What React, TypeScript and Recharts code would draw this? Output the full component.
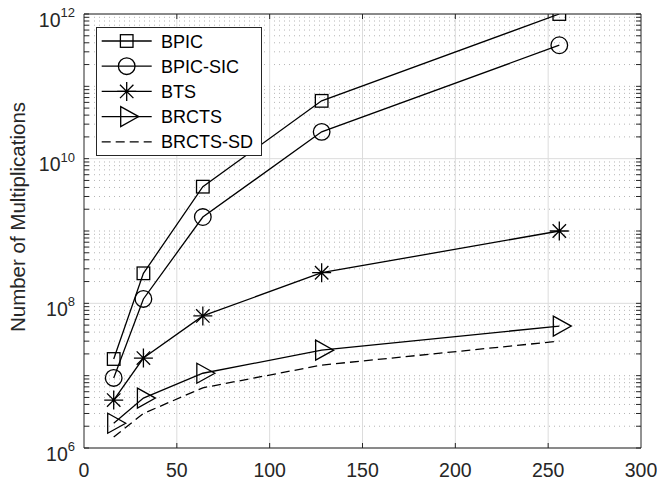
import React from "react";
import {
  LineChart,
  Line,
  XAxis,
  YAxis,
  CartesianGrid,
  Legend,
} from "recharts";

const sizes = [16, 32, 64, 128, 256];
const bpic = [1.7e7, 2.6e8, 4.1e9, 6.3e10, 1.0e12];
const bpicSic = [9.3e6, 1.15e8, 1.56e9, 2.35e10, 3.7e11];
const bts = [4.6e6, 1.75e7, 6.7e7, 2.65e8, 1.0e9];
const brcts = [2.2e6, 4.9e6, 1.08e7, 2.25e7, 4.85e7];
const brctsSd = [1.42e6, 3.0e6, 6.8e6, 1.4e7, 3.0e7];

const xTicks = [0, 50, 100, 150, 200, 250, 300];
const xGrid = [50, 100, 150, 200, 250];
const yMajor = [1e6, 1e8, 1e10, 1e12];
const decades = [6, 7, 8, 9, 10, 11];
const mantissas = [2, 3, 4, 5, 6, 7, 8, 9];

// minor log grid: 2..9 x 10^d, plus the odd decades
const yMinor: number[] = [1e7, 1e9, 1e11];
decades.forEach((d) => mantissas.forEach((k) => yMinor.push(k * Math.pow(10, d))));
const yAllTicks = [...yMajor, ...yMinor].sort((a, b) => a - b);

const data = sizes.map((n, i) => ({
  n,
  bpic: bpic[i],
  bpicSic: bpicSic[i],
  bts: bts[i],
  brcts: brcts[i],
  brctsSd: brctsSd[i],
}));

const FONT = '"Liberation Sans", Arial, Helvetica, sans-serif';
const AXIS = "#262626";
const INK = "#000";
const TICK_LEN = 5;

type Shape = "square" | "circle" | "star" | "triangle" | "none";

const series: { key: string; name: string; shape: Shape; dash?: string }[] = [
  { key: "bpic", name: "BPIC", shape: "square" },
  { key: "bpicSic", name: "BPIC-SIC", shape: "circle" },
  { key: "bts", name: "BTS", shape: "star" },
  { key: "brcts", name: "BRCTS", shape: "triangle" },
  { key: "brctsSd", name: "BRCTS-SD", shape: "none", dash: "9 5" },
];

function Marker({ cx, cy, shape }: { cx: number; cy: number; shape: Shape }) {
  const sp = { fill: "none", stroke: INK, strokeWidth: 1.3 };
  if (cx == null || cy == null) return null;
  if (shape === "square") {
    return <rect x={cx - 6.3} y={cy - 6.3} width={12.6} height={12.6} {...sp} />;
  }
  if (shape === "circle") {
    return <circle cx={cx} cy={cy} r={8.3} {...sp} />;
  }
  if (shape === "star") {
    const r = 9.5;
    const d = r * 0.707;
    return (
      <path
        d={`M${cx - r},${cy}L${cx + r},${cy}M${cx},${cy - r}L${cx},${cy + r}M${cx - d},${cy - d}L${cx + d},${cy + d}M${cx - d},${cy + d}L${cx + d},${cy - d}`}
        {...sp}
      />
    );
  }
  if (shape === "triangle") {
    return (
      <path
        d={`M${cx - 6},${cy - 10}L${cx + 12},${cy}L${cx - 6},${cy + 10}Z`}
        {...sp}
      />
    );
  }
  return null;
}

function XTickBottom(props: any) {
  const { x, y, payload } = props;
  return (
    <g>
      {payload.value > 0 && payload.value < 300 && (
        <line x1={x} x2={x} y1={y} y2={y - TICK_LEN} stroke={AXIS} />
      )}
      <text
        x={x}
        y={y + 29}
        textAnchor="middle"
        fill={AXIS}
        fontSize={19.5}
        fontFamily={FONT}
      >
        {payload.value}
      </text>
    </g>
  );
}

function XTickTop(props: any) {
  const { x, y, payload } = props;
  if (payload.value <= 0 || payload.value >= 300) return <g />;
  return <line x1={x} x2={x} y1={y} y2={y + TICK_LEN} stroke={AXIS} />;
}

function YTickLeft(props: any) {
  const { x, y, payload } = props;
  const v = payload.value;
  const isMajor = yMajor.includes(v);
  const exp = Math.round(Math.log10(v));
  return (
    <g>
      <line x1={x} x2={x + TICK_LEN} y1={y} y2={y} stroke={AXIS} />
      {isMajor && (
        <text x={x - 9} y={y} textAnchor="end" fill={AXIS} fontFamily={FONT}>
          <tspan fontSize={19.5} dy={12.5}>
            10
          </tspan>
          <tspan fontSize={13} dy={-9.5}>
            {exp}
          </tspan>
        </text>
      )}
    </g>
  );
}

function YTickRight(props: any) {
  const { x, y } = props;
  return <line x1={x} x2={x - TICK_LEN} y1={y} y2={y} stroke={AXIS} />;
}

function YLabel(props: any) {
  const vb = props.viewBox || { x: 0, y: 14, width: 84, height: 434 };
  const cx = vb.x + 25;
  const cy = vb.y + vb.height / 2 - 14;
  return (
    <text
      x={cx}
      y={cy}
      transform={`rotate(-90, ${cx}, ${cy})`}
      textAnchor="middle"
      fill={AXIS}
      fontSize={20.5}
      fontFamily={FONT}
    >
      Number of Multiplications
    </text>
  );
}

function LegendBox() {
  const w = 166;
  const h = 129;
  return (
    <svg width={w} height={h} style={{ display: "block" }}>
      <rect x={0.5} y={0.5} width={w - 1} height={h - 1} fill="#fff" stroke={AXIS} />
      {series.map((s, i) => {
        const cy = 14 + i * 25.2;
        return (
          <g key={s.key}>
            <line
              x1={5.7}
              x2={55.7}
              y1={cy}
              y2={cy}
              stroke={INK}
              strokeWidth={1.3}
              strokeDasharray={s.dash}
            />
            <Marker cx={30.7} cy={cy} shape={s.shape} />
            <text x={65} y={cy + 6.5} fontSize={18} fontFamily={FONT} fill={INK}>
              {s.name}
            </text>
          </g>
        );
      })}
    </svg>
  );
}

export default function App() {
  return (
    <div style={{ position: "absolute", left: 0, top: 0, background: "#fff" }}>
      <LineChart
        width={657}
        height={485}
        data={data}
        margin={{ top: 0, right: 0, bottom: 0, left: 0 }}
      >
        <CartesianGrid
          vertical={false}
          horizontalValues={yMinor}
          stroke="#b5b5b5"
          strokeDasharray="1 4"
        />
        <CartesianGrid
          horizontalValues={yMajor}
          verticalValues={xGrid}
          stroke="#dcdcdc"
        />
        <XAxis
          dataKey="n"
          type="number"
          domain={[0, 300]}
          ticks={xTicks}
          interval={0}
          height={37}
          tickSize={0}
          tickMargin={0}
          tickLine={false}
          axisLine={{ stroke: AXIS }}
          tick={<XTickBottom />}
          allowDataOverflow
        />
        <XAxis
          xAxisId="top"
          orientation="top"
          dataKey="n"
          type="number"
          domain={[0, 300]}
          ticks={xTicks}
          interval={0}
          height={14}
          tickSize={0}
          tickMargin={0}
          tickLine={false}
          axisLine={{ stroke: AXIS }}
          tick={<XTickTop />}
          allowDataOverflow
        />
        <YAxis
          type="number"
          scale="log"
          domain={[1e6, 1e12]}
          ticks={yAllTicks}
          interval={0}
          width={84}
          tickSize={0}
          tickMargin={0}
          tickLine={false}
          axisLine={{ stroke: AXIS }}
          tick={<YTickLeft />}
          label={<YLabel />}
          allowDataOverflow
        />
        <YAxis
          yAxisId="right"
          orientation="right"
          type="number"
          scale="log"
          domain={[1e6, 1e12]}
          ticks={yAllTicks}
          interval={0}
          width={16}
          tickSize={0}
          tickMargin={0}
          tickLine={false}
          axisLine={{ stroke: AXIS }}
          tick={<YTickRight />}
          allowDataOverflow
        />
        {series.map((s) => (
          <Line
            key={s.key}
            type="linear"
            dataKey={s.key}
            name={s.name}
            stroke={INK}
            strokeWidth={1.3}
            strokeDasharray={s.dash}
            dot={
              s.shape === "none"
                ? false
                : (p: any) => (
                    <Marker key={`${s.key}-${p.index}`} cx={p.cx} cy={p.cy} shape={s.shape} />
                  )
            }
            activeDot={false}
            isAnimationActive={false}
          />
        ))}
        <Legend
          layout="vertical"
          align="center"
          verticalAlign="middle"
          wrapperStyle={{ position: "absolute", left: 96, top: 27, width: 166, height: 129 }}
          content={<LegendBox />}
        />
      </LineChart>
    </div>
  );
}
